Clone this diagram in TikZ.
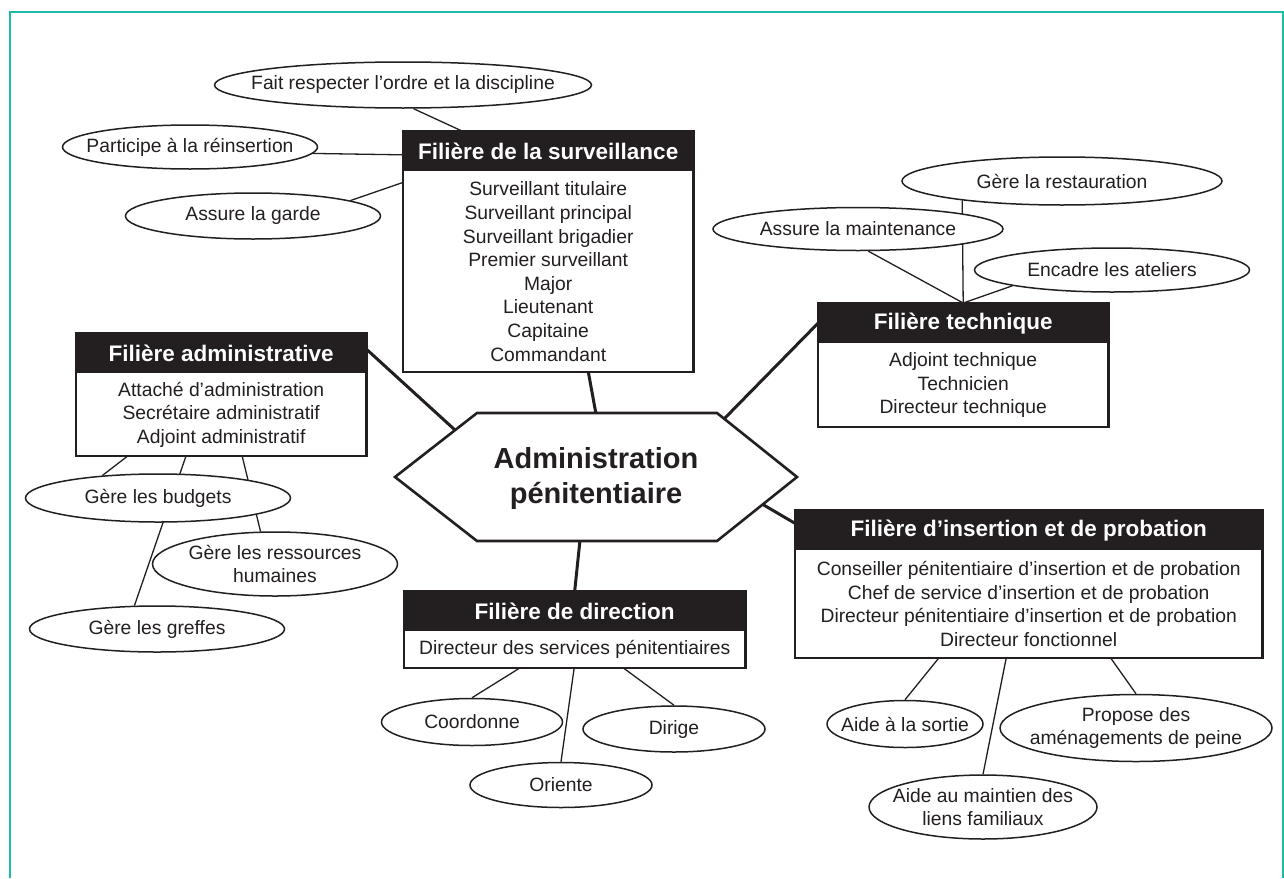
\documentclass[tikz,border=0pt]{standalone}
\usepackage{fontspec}
\setmainfont{Liberation Sans}
\usetikzlibrary{shapes.geometric,calc,backgrounds}
\definecolor{framecol}{RGB}{30,188,168}
\definecolor{ink}{RGB}{35,31,32}
\begin{document}
\begin{tikzpicture}[x=1pt,y=-1pt,
  oval/.style={ellipse,draw=ink,line width=1.5pt,fill=white,inner sep=0pt},
  lbl/.style={align=center,text=ink,inner sep=0pt,font=\fontsize{19.3}{23}\selectfont},
  hdr/.style={fill=ink,text=white,font=\bfseries\fontsize{22.5}{26}\selectfont,anchor=north west,inner sep=0pt,minimum height=40pt},
  bdy/.style={fill=white,text=ink,align=center,font=\fontsize{19.3}{23.6}\selectfont,anchor=north west,inner sep=0pt},
  boxline/.style={draw=ink,line width=2.6pt},
  conn/.style={draw=ink,line width=1.3pt},
  bigconn/.style={draw=ink,line width=3pt},
  hexline/.style={draw=ink,line width=2.6pt,fill=white,line join=miter}]
\useasboundingbox (0,0) rectangle (1284,878);
\draw[framecol,line width=1.6pt] (10,878) -- (10,12) -- (1283,12) -- (1283,878);

% central hexagon
\coordinate (v1) at (395,477);
\coordinate (v2) at (477,413);
\coordinate (v3) at (717,413);
\coordinate (v4) at (797,477);
\coordinate (v5) at (717,541);
\coordinate (v6) at (477,541);
\draw[hexline] (v1) -- (v2) -- (v3) -- (v4) -- (v5) -- (v6) -- cycle;
\node[align=center,text=ink,font=\bfseries\fontsize{29}{35}\selectfont] (hex) at (596,478) {Administration\\pénitentiaire};
\coordinate (hT) at (596,414);
\coordinate (hUL) at (455,430);
\coordinate (hUR) at (724,419);
\coordinate (hLR) at (762,504);
\coordinate (hB) at (580,540);

% Filière de la surveillance
\node[hdr,minimum width=290pt] (survH) at (403,131) {Filière de la surveillance};
\node[bdy,minimum width=290pt,minimum height=200pt] (survB) at (survH.south west)
  {Surveillant titulaire\\Surveillant principal\\Surveillant brigadier\\Premier surveillant\\Major\\Lieutenant\\Capitaine\\Commandant};
\draw[boxline] (survH.north west) rectangle (survB.south east);

% Filière administrative
\node[hdr,minimum width=290pt] (admH) at (76,333) {Filière administrative};
\node[bdy,minimum width=290pt,minimum height=82pt] (admB) at (admH.south west)
  {Attaché d’administration\\Secrétaire administratif\\Adjoint administratif};
\draw[boxline] (admH.north west) rectangle (admB.south east);

% Filière technique
\node[hdr,minimum width=290pt] (techH) at (818,303) {Filière technique};
\node[bdy,minimum width=290pt,minimum height=83pt] (techB) at (techH.south west)
  {Adjoint technique\\Technicien\\Directeur technique};
\draw[boxline] (techH.north west) rectangle (techB.south east);

% Filière d'insertion et de probation
\node[hdr,minimum width=467pt] (insH) at (795,510) {Filière d’insertion et de probation};
\node[bdy,minimum width=467pt,minimum height=107pt] (insB) at (insH.south west)
  {Conseiller pénitentiaire d’insertion et de probation\\Chef de service d’insertion et de probation\\Directeur pénitentiaire d’insertion et de probation\\Directeur fonctionnel};
\draw[boxline] (insH.north west) rectangle (insB.south east);

% Filière de direction
\node[hdr,minimum width=341pt] (dirH) at (404,591) {Filière de direction};
\node[bdy,minimum width=341pt,minimum height=36pt] (dirB) at (dirH.south west)
  {Directeur des services pénitentiaires};
\draw[boxline] (dirH.north west) rectangle (dirB.south east);

% ellipses
\node[oval,minimum width=377pt,minimum height=46pt,label={[lbl]center:{Fait respecter l’ordre et la discipline}}] (fait) at (403,85) {};
\node[oval,minimum width=255pt,minimum height=44pt,label={[lbl]center:{Participe à la réinsertion}}] (part) at (190,147) {};
\node[oval,minimum width=255pt,minimum height=46pt,label={[lbl]center:{Assure la garde}}] (garde) at (253,216) {};
\node[oval,minimum width=320pt,minimum height=48pt,label={[lbl]center:{Gère la restauration}}] (restau) at (1062,181) {};
\node[oval,minimum width=290pt,minimum height=43pt,label={[lbl]center:{Assure la maintenance}}] (maint) at (858,229) {};
\node[oval,minimum width=275pt,minimum height=44pt,label={[lbl]center:{Encadre les ateliers}}] (atel) at (1112,270) {};
\node[oval,minimum width=265pt,minimum height=48pt,label={[lbl]center:{Gère les budgets}}] (budg) at (158,498) {};
\node[oval,minimum width=245pt,minimum height=64pt,label={[lbl]center:{Gère les ressources\\humaines}}] (rh) at (275,564) {};
\node[oval,minimum width=255pt,minimum height=46pt,label={[lbl]center:{Gère les greffes}}] (greff) at (157,629) {};
\node[oval,minimum width=181pt,minimum height=47pt,label={[lbl]center:{Coordonne}}] (coord) at (472,722) {};
\node[oval,minimum width=182pt,minimum height=46pt,label={[lbl]center:{Dirige}}] (dirige) at (674,729) {};
\node[oval,minimum width=182pt,minimum height=45pt,label={[lbl]center:{Oriente}}] (orient) at (561,785) {};
\node[oval,minimum width=156pt,minimum height=47pt,label={[lbl]center:{Aide à la sortie}}] (sortie) at (905,724) {};
\node[oval,minimum width=272pt,minimum height=67pt,label={[lbl]center:{Propose des\\aménagements de peine}}] (propose) at (1136,728) {};
\node[oval,minimum width=228pt,minimum height=64pt,label={[lbl]center:{Aide au maintien des\\liens familiaux}}] (mainten) at (983,807) {};

\begin{pgfonlayer}{background}
% thick links to the centre
\draw[bigconn] ($(survB.south west)!0.638!(survB.south east)$) -- (hT);
\draw[bigconn] ($(admH.north east)!0.4!(admH.south east)$) -- (hUL);
\draw[bigconn] (techH.west) -- (hUR);
\draw[bigconn] ($(insH.north west)!0.33!(insH.south west)$) -- (hLR);
\draw[bigconn] (hB) -- (dirH.north);
% surveillance
\draw[conn] ($(survH.north west)!0.203!(survH.north east)$) -- (fait.-66);
\draw[conn] ($(survH.north west)!0.59!(survH.south west)$) -- (part.-3);
\draw[conn] ($(survB.north west)!0.055!(survB.south west)$) -- (garde.9);
% administrative
\draw[conn] ($(admB.south west)!0.179!(admB.south east)$) -- (budg.158);
\draw[conn] ($(admB.south west)!0.379!(admB.south east)$) -- (greff.134);
\draw[conn] ($(admB.south west)!0.572!(admB.south east)$) -- (rh.114);
% technique
\draw[conn] (techH.north) -- (maint.-65);
\draw[conn] (techH.north) -- (restau.-169);
\draw[conn] (techH.north) -- (atel.-171);
% direction
\draw[conn] ($(dirB.south west)!0.34!(dirB.south east)$) -- (coord.north);
\draw[conn] ($(dirB.south west)!0.4985!(dirB.south east)$) -- (orient.north);
\draw[conn] ($(dirB.south west)!0.642!(dirB.south east)$) -- (dirige.north);
% insertion
\draw[conn] ($(insB.south west)!0.308!(insB.south east)$) -- (sortie.north);
\draw[conn] ($(insB.south west)!0.452!(insB.south east)$) -- (mainten.north);
\draw[conn] ($(insB.south west)!0.675!(insB.south east)$) -- (propose.north);
\end{pgfonlayer}
\end{tikzpicture}
\end{document}
